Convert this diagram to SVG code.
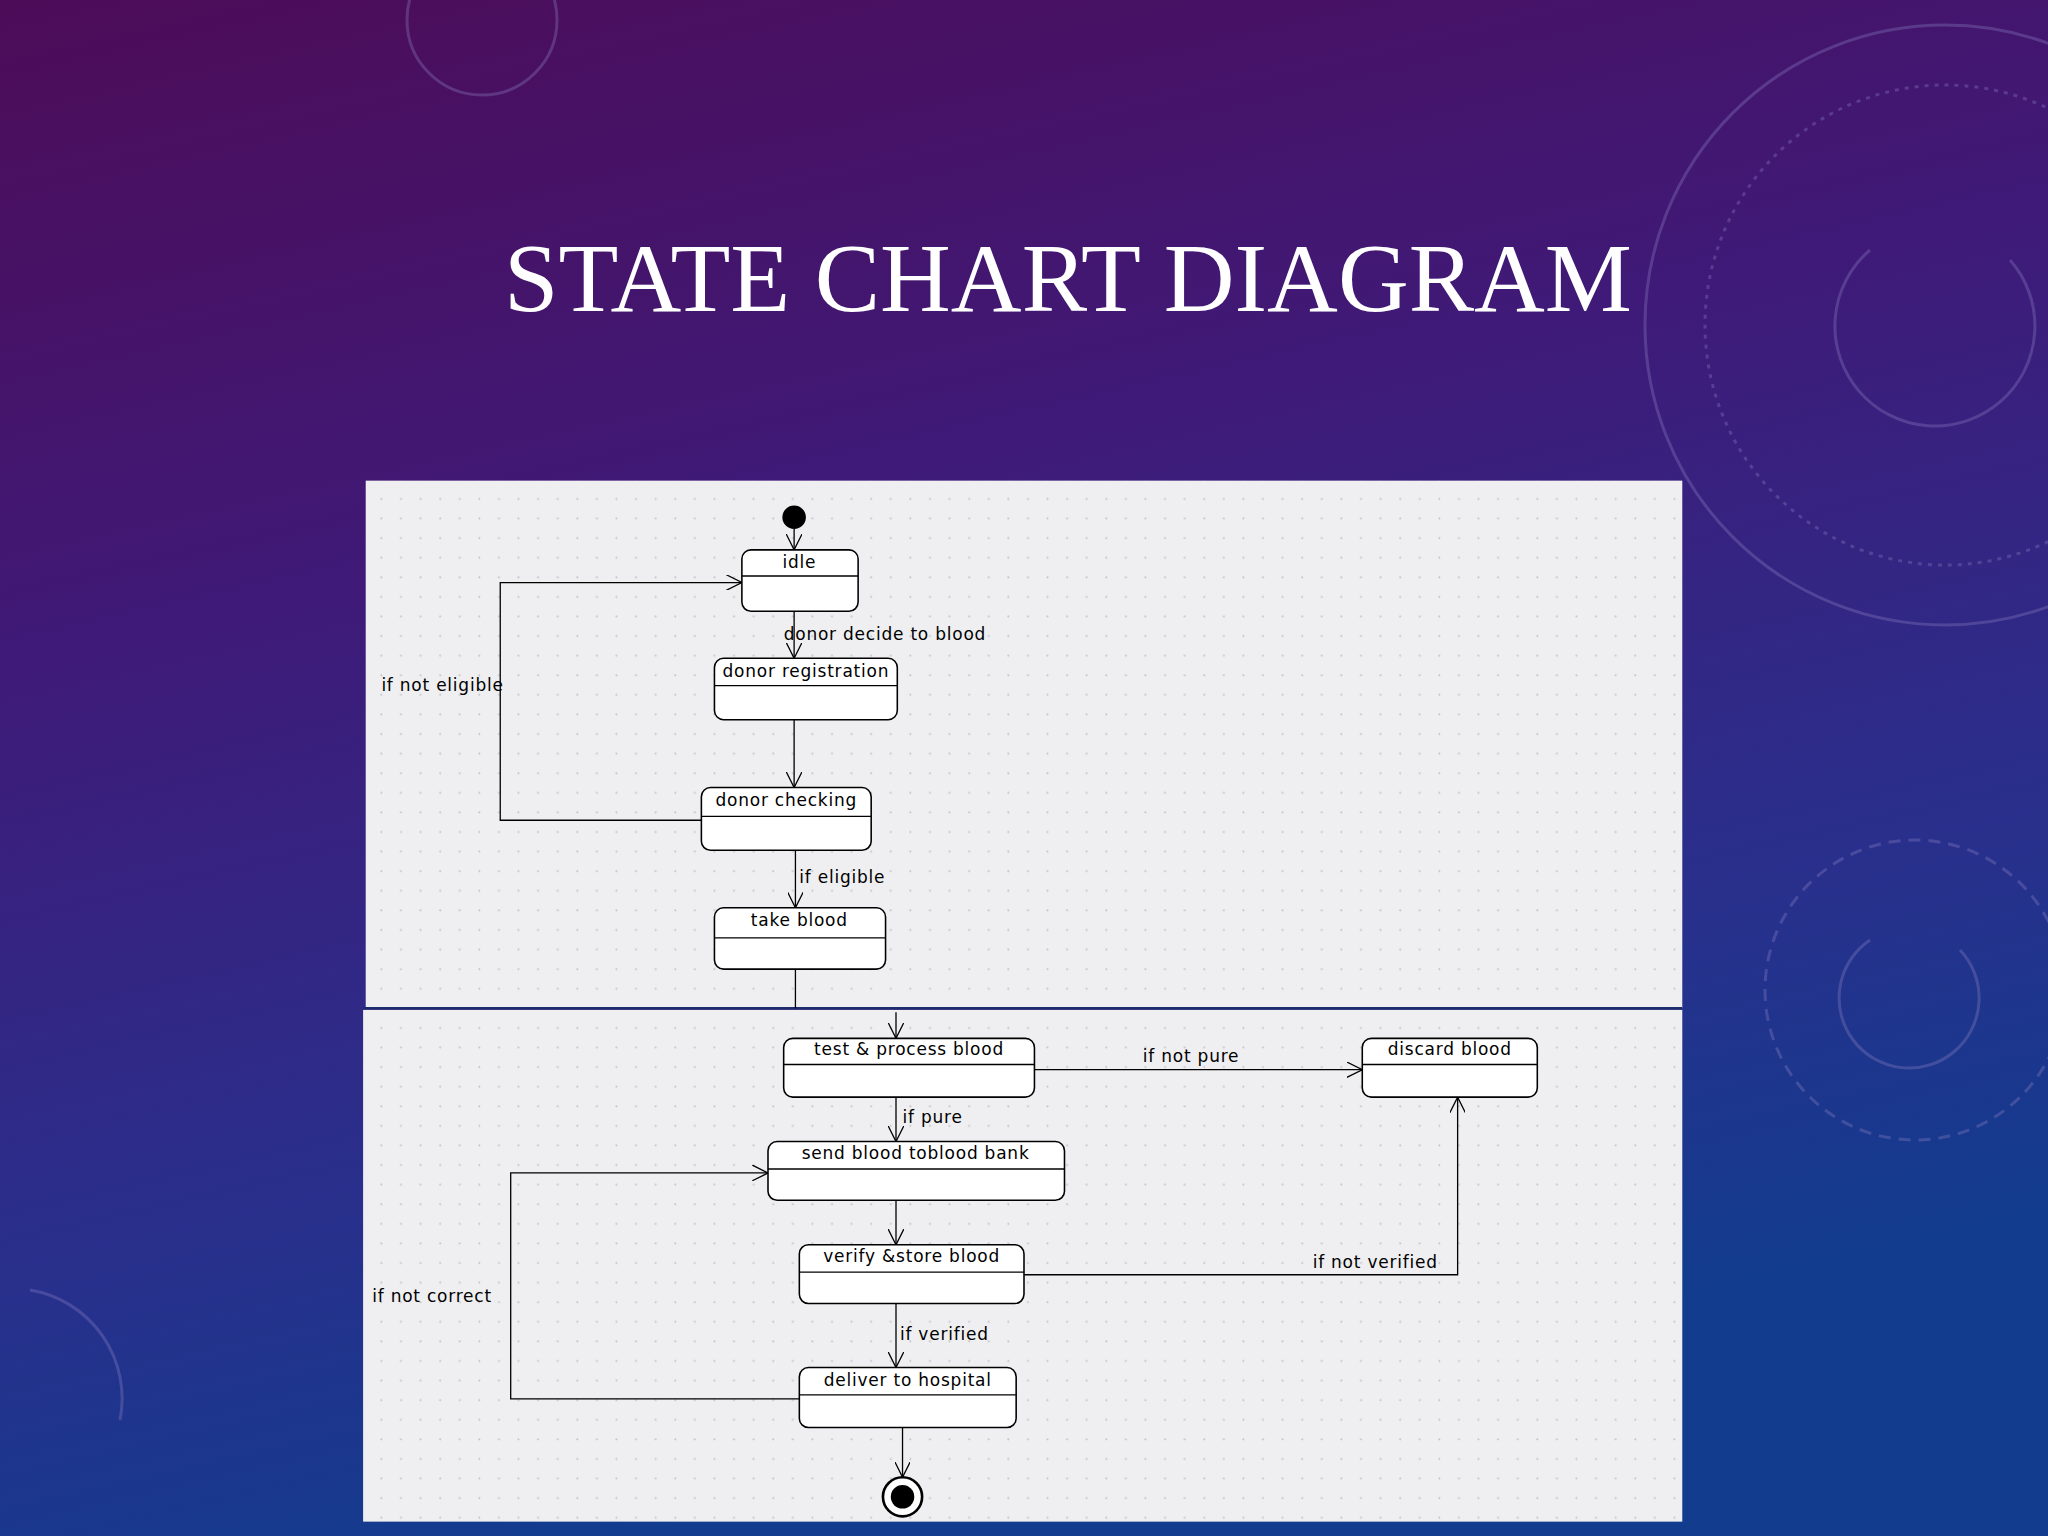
<svg xmlns="http://www.w3.org/2000/svg" width="2048" height="1536" viewBox="0 0 2048 1536">
<defs>
<linearGradient id="bg" x1="0" y1="0" x2="0.3" y2="1">
<stop offset="0" stop-color="#4d0c58"/><stop offset="0.4" stop-color="#3f1a78"/><stop offset="0.75" stop-color="#2a2f8c"/><stop offset="1" stop-color="#123c8e"/>
</linearGradient>
<pattern id="dots" width="15" height="15" patternUnits="userSpaceOnUse"><circle cx="7" cy="7" r="0.8" fill="#c4c4cc"/></pattern>
<marker id="arr" markerWidth="14" markerHeight="12" refX="12" refY="6" orient="auto" markerUnits="userSpaceOnUse"><path d="M0,0 L12,6 L0,12" fill="none" stroke="#000" stroke-width="1"/></marker>
<style>
.st rect.b{fill:#fff;stroke:#000;stroke-width:1.2}
.st line{stroke:#000;stroke-width:1}
.st text,.lb{font-family:"DejaVu Sans",sans-serif;font-size:13px;fill:#000;letter-spacing:0.6px}
.st text{text-anchor:middle}
.cn path{fill:none;stroke:#000;stroke-width:1}
</style>
</defs>
<rect width="2048" height="1536" fill="url(#bg)"/>
<g fill="none" stroke="#8a7fc0" stroke-opacity="0.35" stroke-width="3">
<circle cx="1945" cy="325" r="300"/><circle cx="1945" cy="325" r="240" stroke-dasharray="4 6"/><path d="M1870,250 A100,100 0 1,0 2010,260"/>
<circle cx="1915" cy="990" r="150" stroke-dasharray="12 8"/><path d="M1870,940 A70,70 0 1,0 1960,950"/>
<circle cx="482" cy="20" r="75"/><path d="M30,1290 A110,110 0 0,1 120,1420"/>
</g>
<text x="1068" y="311" text-anchor="middle" font-family="Liberation Serif,serif" font-size="98" fill="#fff">STATE CHART DIAGRAM</text>
<g transform="scale(1.30612)">
<rect x="280" y="368" width="1008" height="404" fill="#efeff1"/>
<rect x="278" y="773" width="1010" height="392" fill="#efeff1"/>
<rect x="280" y="368" width="1008" height="797" fill="url(#dots)"/>
<line x1="278" y1="772" x2="1288" y2="772" stroke="#1f2a6e" stroke-width="2"/>
<g class="cn">
<path d="M608,405 V421" marker-end="url(#arr)"/>
<path d="M608,468 V504" marker-end="url(#arr)"/>
<path d="M608,551 V603" marker-end="url(#arr)"/>
<path d="M537,628 H383 V446 H568" marker-end="url(#arr)"/>
<path d="M609,651 V695" marker-end="url(#arr)"/>
<path d="M609,742 V772"/>
<path d="M686,775 V795" marker-end="url(#arr)"/>
<path d="M792,819 H1043" marker-end="url(#arr)"/>
<path d="M686,840 V874" marker-end="url(#arr)"/>
<path d="M686,919 V953" marker-end="url(#arr)"/>
<path d="M784,976 H1116 V840" marker-end="url(#arr)"/>
<path d="M686,998 V1047" marker-end="url(#arr)"/>
<path d="M612,1071 H391 V898 H588" marker-end="url(#arr)"/>
<path d="M691,1093 V1131" marker-end="url(#arr)"/>
<text class="lb" x="600" y="490">donor decide to blood</text>
<text class="lb" x="292" y="529">if not eligible</text>
<text class="lb" x="612" y="676">if eligible</text>
<text class="lb" x="875" y="813">if not pure</text>
<text class="lb" x="691" y="860">if pure</text>
<text class="lb" x="1005" y="971">if not verified</text>
<text class="lb" x="689" y="1026">if verified</text>
<text class="lb" x="285" y="997">if not correct</text>
</g>
<g id="init"><circle cx="608" cy="396" r="9" fill="#000"/></g>
<g id="idle" class="st"><rect class="b" x="568" y="421" width="89" height="47" rx="7"/><line x1="568" y1="441" x2="657" y2="441"/><text x="612" y="435">idle</text></g>
<g id="reg" class="st"><rect class="b" x="547" y="504" width="140" height="47" rx="7"/><line x1="547" y1="525" x2="687" y2="525"/><text x="617" y="518">donor registration</text></g>
<g id="check" class="st"><rect class="b" x="537" y="603" width="130" height="48" rx="7"/><line x1="537" y1="625" x2="667" y2="625"/><text x="602" y="617">donor checking</text></g>
<g id="take" class="st"><rect class="b" x="547" y="695" width="131" height="47" rx="7"/><line x1="547" y1="718" x2="678" y2="718"/><text x="612" y="709">take blood</text></g>
<g id="test" class="st"><rect class="b" x="600" y="795" width="192" height="45" rx="7"/><line x1="600" y1="815" x2="792" y2="815"/><text x="696" y="808">test &amp; process blood</text></g>
<g id="discard" class="st"><rect class="b" x="1043" y="795" width="134" height="45" rx="7"/><line x1="1043" y1="815" x2="1177" y2="815"/><text x="1110" y="808">discard blood</text></g>
<g id="send" class="st"><rect class="b" x="588" y="874" width="227" height="45" rx="7"/><line x1="588" y1="895" x2="815" y2="895"/><text x="701" y="887">send blood toblood bank</text></g>
<g id="verify" class="st"><rect class="b" x="612" y="953" width="172" height="45" rx="7"/><line x1="612" y1="974" x2="784" y2="974"/><text x="698" y="966">verify &amp;store blood</text></g>
<g id="deliver" class="st"><rect class="b" x="612" y="1047" width="166" height="46" rx="7"/><line x1="612" y1="1068" x2="778" y2="1068"/><text x="695" y="1061">deliver to hospital</text></g>
<g id="final"><circle cx="691" cy="1146" r="15" fill="#fff" stroke="#000" stroke-width="2"/><circle cx="691" cy="1146" r="9" fill="#000"/></g>
</g>
</svg>
